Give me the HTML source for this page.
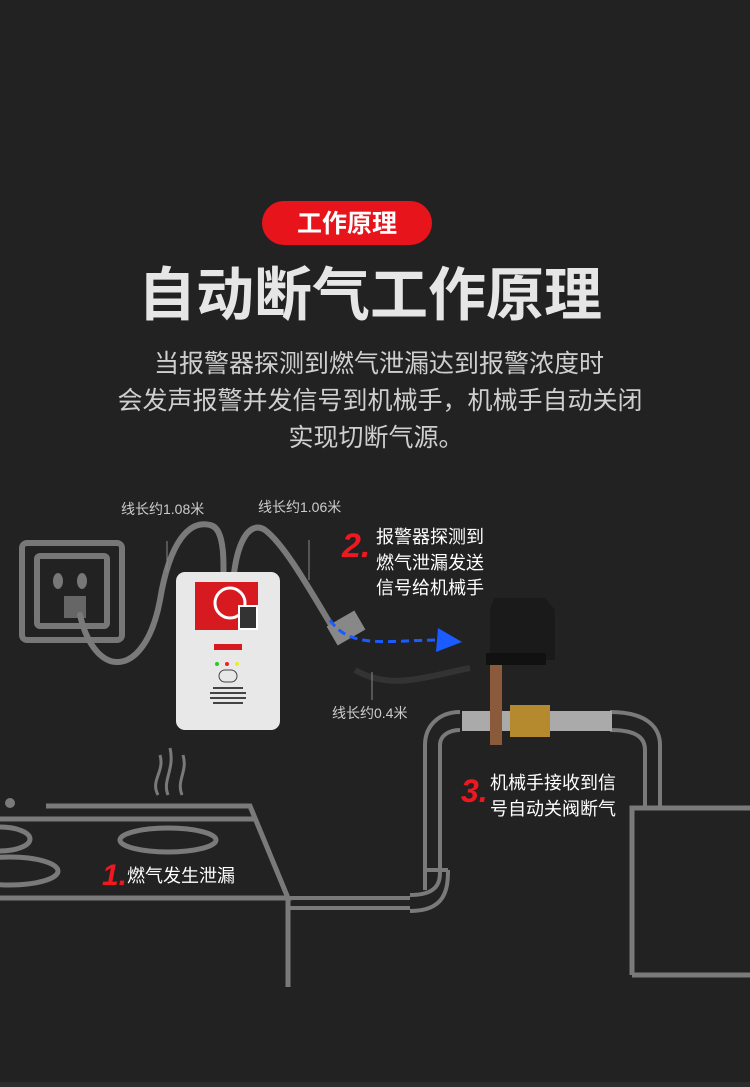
<!DOCTYPE html>
<html><head><meta charset="utf-8"><style>
body{margin:0;width:750px;height:1087px;background:#222;overflow:hidden;font-family:"Liberation Sans","Noto Sans CJK SC",sans-serif}
</style></head><body>
<svg width="750" height="1087" viewBox="0 0 750 1087" xmlns="http://www.w3.org/2000/svg" style="display:block">
<rect width="750" height="1087" fill="#222"/>
<rect x="0" y="1082" width="750" height="5" fill="#2c2c2c"/>
<!-- title pill -->
<rect x="262" y="201" width="170" height="44" rx="22" fill="#e8141b"/>
<text x="347" y="232" font-size="25" fill="#fff" text-anchor="middle" font-family="Noto Sans CJK SC, sans-serif" font-weight="bold">工作原理</text>
<text x="370" y="315" font-size="58" fill="#e6e6e6" text-anchor="middle" font-family="Noto Sans CJK SC, sans-serif" font-weight="bold">自动断气工作原理</text>
<g font-size="25" fill="#cfcfcf" text-anchor="middle" font-family="Noto Sans CJK SC, sans-serif">
<text x="379" y="372">当报警器探测到燃气泄漏达到报警浓度时</text>
<text x="380" y="409">会发声报警并发信号到机械手，机械手自动关闭</text>
<text x="376" y="446">实现切断气源。</text>
</g>
<!-- socket -->
<g fill="none" stroke="#777" stroke-width="6">
<rect x="22" y="543" width="100" height="97" rx="5"/>
<rect x="37" y="556" width="70" height="70" rx="3"/>
</g>
<ellipse cx="58" cy="581" rx="5" ry="8" fill="#777"/><ellipse cx="82" cy="581" rx="5" ry="8" fill="#777"/>
<rect x="64" y="596" width="22" height="22" fill="#666"/>
<!-- cables -->
<g fill="none" stroke="#7a7a7a" stroke-width="6" stroke-linecap="round">
<path d="M80 615 C95 680 145 680 160 600 C170 540 190 520 210 525 C225 528 225 560 222 610"/>
<path d="M232 610 C232 540 250 520 265 530 C285 545 310 590 340 640"/>
</g>
<path d="M355 670 C390 690 420 678 470 668" fill="none" stroke="#333" stroke-width="6"/>
<rect x="330" y="617" width="32" height="22" fill="#888" transform="rotate(-30 346 628)"/>
<!-- detector -->
<rect x="176" y="572" width="104" height="158" rx="9" fill="#e8e8e8"/>
<rect x="195" y="582" width="63" height="48" fill="#d71920"/>
<circle cx="230" cy="603" r="15" fill="none" stroke="#fff" stroke-width="3"/>
<rect x="238" y="605" width="20" height="25" fill="#fff"/>
<rect x="240" y="607" width="16" height="21" fill="#333"/>
<rect x="213" y="702" width="30" height="2" fill="#444"/><rect x="210" y="697" width="36" height="2" fill="#444"/><rect x="210" y="692" width="36" height="2" fill="#444"/><rect x="213" y="687" width="30" height="2" fill="#444"/>
<rect x="214" y="644" width="28" height="6" fill="#d71920"/>
<circle cx="217" cy="664" r="2" fill="#2c2"/><circle cx="227" cy="664" r="2" fill="#e22"/><circle cx="237" cy="664" r="2" fill="#ee2"/>
<rect x="219" y="670" width="18" height="12" rx="6" fill="none" stroke="#444"/>
<!-- labels -->
<g font-size="14" fill="#ccc">
<text x="121" y="514">线长约1.08米</text>
<text x="258" y="512">线长约1.06米</text>
<text x="332" y="718">线长约0.4米</text>
</g>
<g stroke="#888" stroke-width="1"><line x1="167" y1="541" x2="167" y2="572"/><line x1="309" y1="540" x2="309" y2="580"/><line x1="372" y1="672" x2="372" y2="700"/></g>
<!-- step 2 -->
<text x="342" y="557" font-size="34" fill="#f01820" font-style="italic" font-weight="bold">2.</text>
<g font-size="18" fill="#fff" font-family="Noto Sans CJK SC, sans-serif"><text x="376" y="543">报警器探测到</text><text x="376" y="569">燃气泄漏发送</text><text x="376" y="594">信号给机械手</text></g>
<path d="M330 620 C350 650 390 640 440 640" fill="none" stroke="#1a5cff" stroke-width="3" stroke-dasharray="8 5"/>
<polygon points="438,628 462,642 436,652" fill="#1a5cff"/>
<!-- pipes -->
<g fill="none" stroke="#7a7a7a" stroke-width="4">
<path d="M290 898 L410 898 M290 908 L410 908"/>
<path d="M410 895 C440 895 440 880 440 870 L440 745 M410 911 C445 911 448 890 448 870"/>
<path d="M425 890 L425 745 C425 725 440 712 460 712 M440 745 C440 735 450 730 460 730"/>
<path d="M425 870 L448 870"/>
<path d="M610 712 C650 712 660 730 660 745 L660 808 M610 730 C640 730 645 740 645 750 L645 808"/>
</g>
<rect x="462" y="711" width="150" height="20" fill="#aaa"/>
<rect x="510" y="705" width="40" height="32" fill="#b58a2e"/>
<rect x="490" y="660" width="12" height="85" fill="#8a5a3a"/>
<path d="M494 598 L545 598 L555 610 L555 660 L490 660 L490 610 Z" fill="#1a1a1a"/>
<rect x="486" y="653" width="60" height="12" fill="#111"/>
<!-- right box -->
<path d="M632 975 L632 808 L750 808 M632 975 L750 975" fill="none" stroke="#7a7a7a" stroke-width="5"/>
<!-- step 3 -->
<text x="461" y="802" font-size="32" fill="#f01820" font-style="italic" font-weight="bold">3.</text>
<g font-size="18" fill="#fff" font-family="Noto Sans CJK SC, sans-serif"><text x="490" y="789">机械手接收到信</text><text x="490" y="815">号自动关阀断气</text></g>
<!-- stove -->
<g fill="none" stroke="#7a7a7a" stroke-width="5">
<path d="M46 806 L250 806 L288 898 L0 898"/>
<path d="M0 819 L255 819"/>
<path d="M288 898 L288 987"/>
<ellipse cx="168" cy="840" rx="48" ry="12"/>
<ellipse cx="0" cy="839" rx="30" ry="12"/>
<ellipse cx="10" cy="871" rx="48" ry="14"/>
<path d="M158 795 C150 780 165 772 160 755 M168 795 C162 780 175 770 170 748 M182 795 C176 780 188 772 183 755" stroke-width="3"/>
</g>
<circle cx="10" cy="803" r="5" fill="#7a7a7a"/>
<text x="102" y="885" font-size="30" fill="#f01820" font-style="italic" font-weight="bold">1.</text>
<text x="127" y="882" font-size="18" fill="#fff" font-family="Noto Sans CJK SC, sans-serif">燃气发生泄漏</text>
</svg>
</body></html>
